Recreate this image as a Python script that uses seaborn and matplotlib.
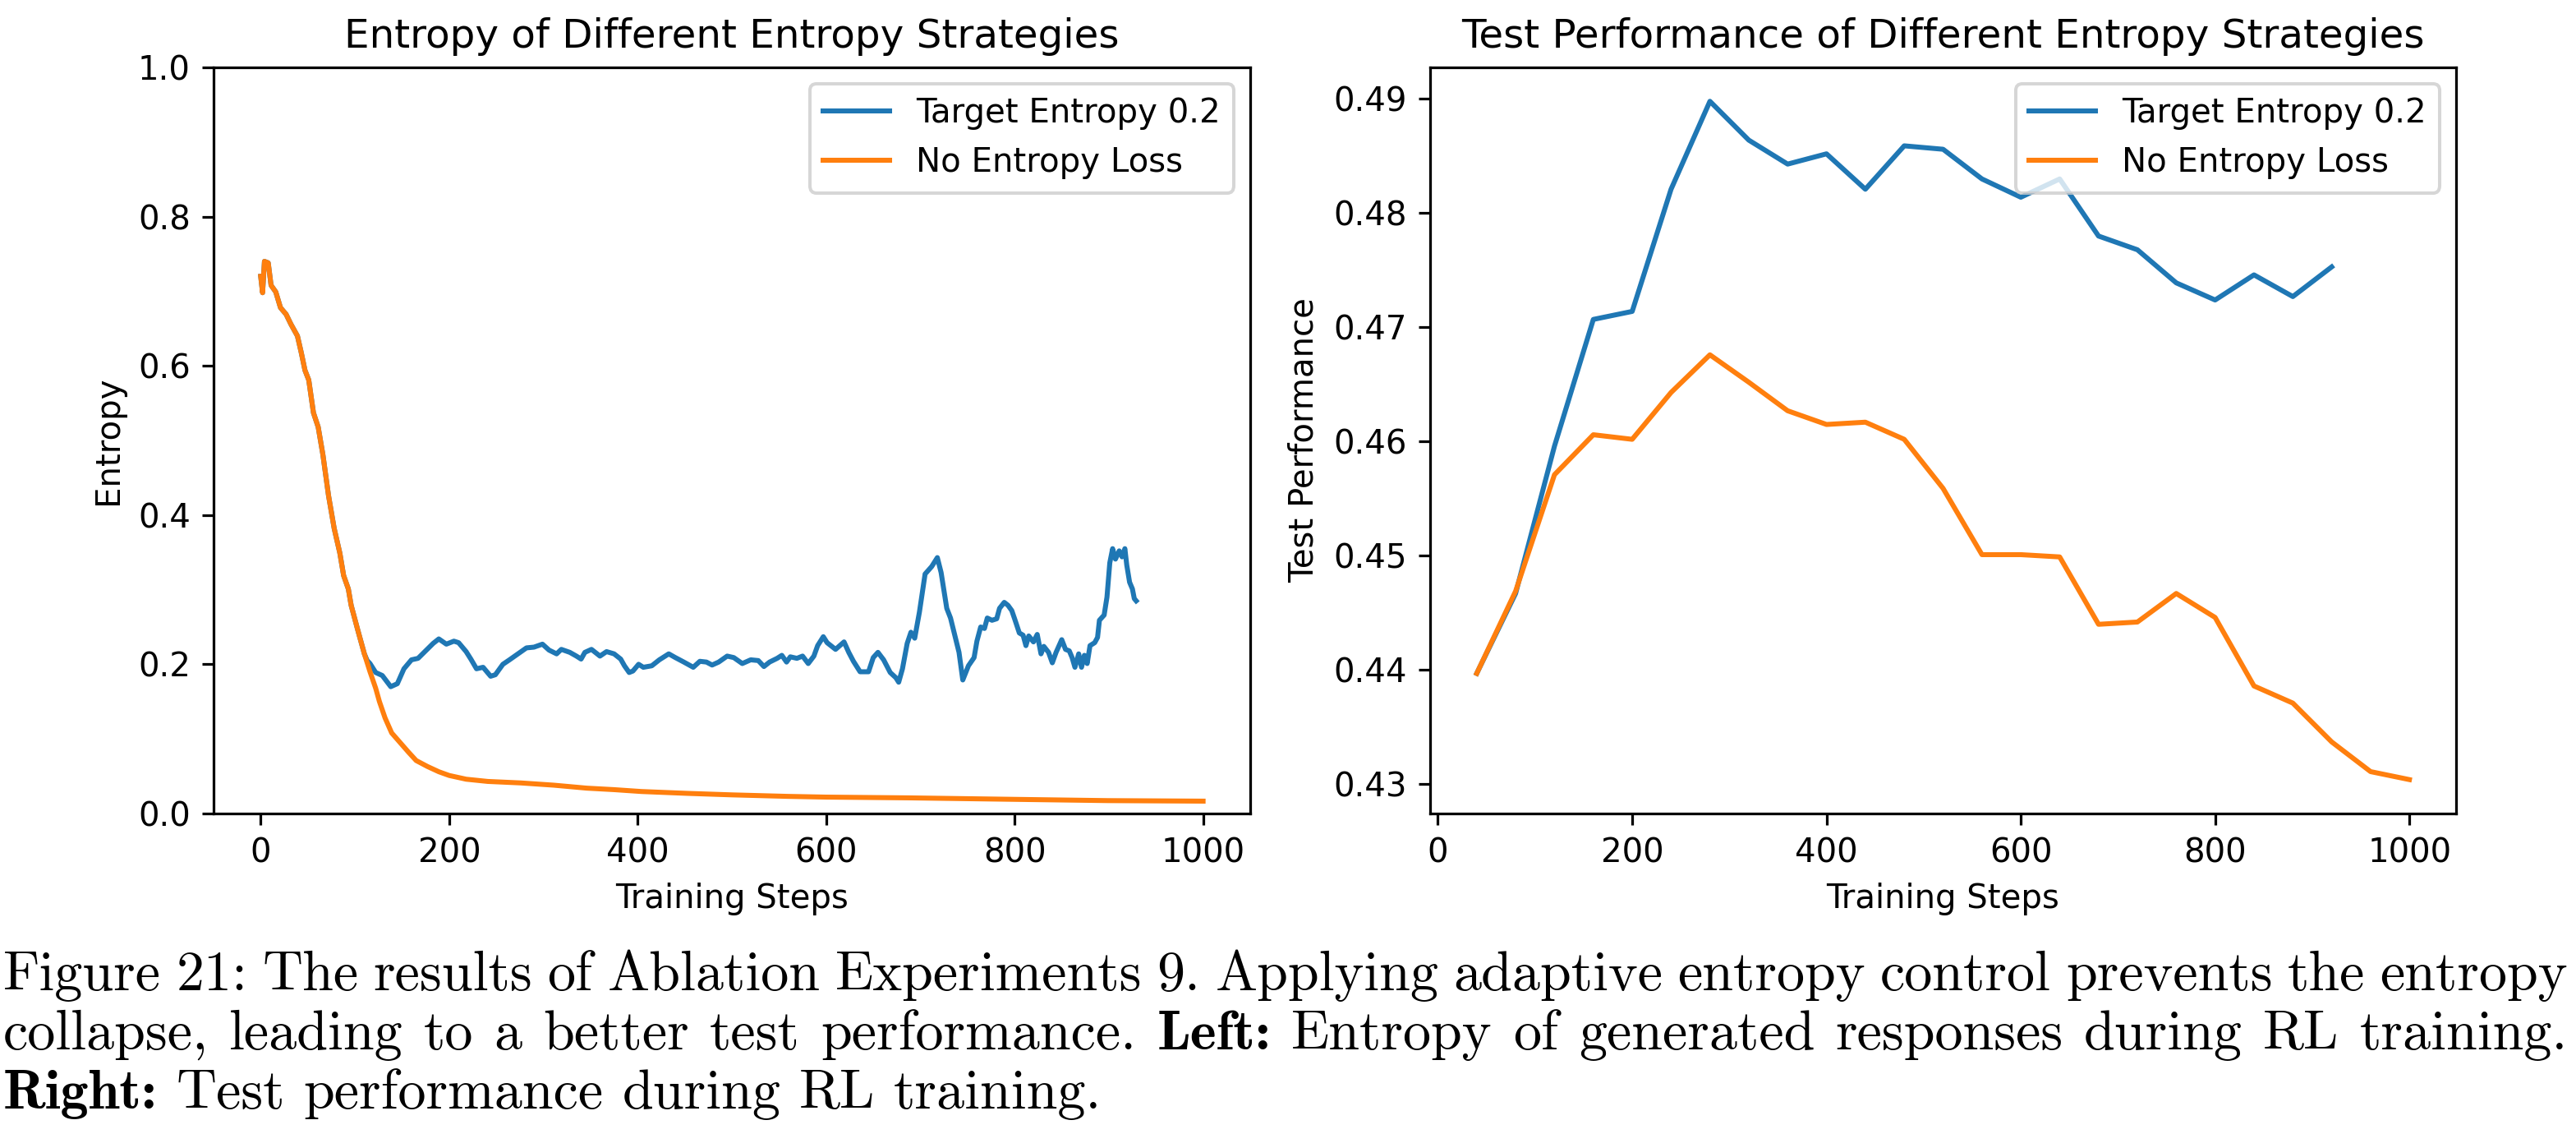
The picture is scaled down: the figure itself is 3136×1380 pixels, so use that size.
import numpy as np
import pandas as pd
import matplotlib
matplotlib.use("Agg")
import matplotlib.pyplot as plt
import seaborn as sns

# left panel: entropy during training
blue_steps = [0, 2, 4, 8, 11, 16, 21, 27, 32, 39, 43, 47, 51, 56, 61, 66, 72, 78, 84, 88, 93, 96, 103, 110, 113,
              116, 122, 129, 138, 145, 152, 160, 167, 175, 183, 189, 197, 205, 210, 218, 223, 229, 236, 244, 249,
              257, 264, 273, 282, 290, 299, 306, 314, 319, 328, 335, 340, 344, 351, 360, 367, 375, 382, 386, 391,
              395, 401, 406, 415, 423, 433, 440, 449, 459, 466, 473, 479, 486, 495, 502, 511, 520, 528, 534, 540,
              548, 553, 558, 562, 569, 575, 581, 587, 591, 597, 601, 610, 619, 624, 629, 636, 645, 650, 655, 661,
              668, 674, 677, 681, 686, 690, 694, 699, 705, 712, 718, 722, 728, 732, 741, 745, 751, 757, 760, 764,
              768, 771, 776, 781, 784, 789, 793, 797, 800, 805, 809, 812, 815, 820, 824, 828, 831, 836, 840, 844,
              850, 854, 858, 861, 864, 868, 871, 874, 877, 880, 885, 888, 890, 895, 898, 901, 904, 907, 911, 914,
              917, 919, 922, 925, 927, 929]
blue_entropy = [0.720, 0.698, 0.740, 0.738, 0.708, 0.699, 0.678, 0.669, 0.656, 0.640, 0.618, 0.594, 0.581, 0.537,
                0.518, 0.481, 0.426, 0.382, 0.349, 0.319, 0.301, 0.279, 0.246, 0.214, 0.205,
                0.201, 0.189, 0.185, 0.170, 0.174, 0.194, 0.206, 0.208, 0.218, 0.228, 0.234, 0.227, 0.231, 0.229,
                0.217, 0.207, 0.194, 0.196, 0.184, 0.186, 0.200, 0.206, 0.214, 0.222, 0.223, 0.227, 0.219, 0.214,
                0.220, 0.216, 0.211, 0.207, 0.216, 0.220, 0.211, 0.217, 0.214, 0.207, 0.198, 0.189, 0.191, 0.200,
                0.196, 0.198, 0.206, 0.214, 0.209, 0.203, 0.196, 0.204, 0.203, 0.199, 0.203, 0.211, 0.209, 0.201,
                0.206, 0.205, 0.197, 0.203, 0.208, 0.212, 0.203, 0.210, 0.208, 0.211, 0.201, 0.211, 0.225, 0.237,
                0.229, 0.220, 0.230, 0.216, 0.204, 0.190, 0.190, 0.209, 0.216, 0.206, 0.189, 0.182, 0.176, 0.194,
                0.228, 0.243, 0.235, 0.270, 0.321, 0.331, 0.343, 0.323, 0.275, 0.262, 0.216, 0.179, 0.198, 0.209,
                0.231, 0.250, 0.248, 0.262, 0.259, 0.261, 0.275, 0.283, 0.279, 0.272, 0.261, 0.242, 0.239, 0.225,
                0.238, 0.230, 0.240, 0.214, 0.224, 0.216, 0.202, 0.216, 0.233, 0.220, 0.218, 0.209, 0.196, 0.214,
                0.196, 0.212, 0.201, 0.225, 0.229, 0.236, 0.259, 0.266, 0.290, 0.336, 0.355, 0.341, 0.352, 0.344,
                0.355, 0.333, 0.310, 0.301, 0.288, 0.285]

orange_steps = [0, 2, 4, 8, 11, 16, 21, 27, 32, 39, 43, 47, 51, 56, 61, 66, 72, 78, 84, 88, 93, 96, 103, 110, 116,
                122, 126, 132, 139, 148, 157, 165, 177, 189, 200, 218, 241, 276, 311, 346, 375, 404, 453, 500,
                559, 600, 687, 800, 899, 1000]
orange_entropy = [0.720, 0.698, 0.740, 0.738, 0.708, 0.699, 0.678, 0.669, 0.656, 0.640, 0.618, 0.594, 0.581, 0.537,
                  0.518, 0.481, 0.426, 0.382, 0.349, 0.319, 0.301, 0.279, 0.246, 0.214, 0.190,
                  0.168, 0.150, 0.128, 0.108, 0.095, 0.082, 0.071, 0.063, 0.056, 0.051, 0.046, 0.043, 0.041, 0.038,
                  0.034, 0.032, 0.0295, 0.027, 0.025, 0.023, 0.022, 0.021, 0.019, 0.0173, 0.0166]

# right panel: test performance
perf_steps_blue = [40, 80, 120, 160, 200, 240, 280, 320, 360, 400, 440, 480, 520, 560, 600, 640, 680, 720, 760,
                   800, 840, 880, 920]
perf_blue = [0.4397, 0.4467, 0.4596, 0.4707, 0.4714, 0.4821, 0.4898, 0.4864, 0.4843, 0.4852, 0.4821, 0.4859,
             0.4856, 0.4830, 0.4814, 0.4830, 0.4780, 0.4768, 0.4739, 0.4724, 0.4746, 0.4727, 0.4753]
perf_steps_orange = [40, 80, 120, 160, 200, 240, 280, 320, 360, 400, 440, 480, 520, 560, 600, 640, 680, 720, 760,
                     800, 840, 880, 920, 960, 1000]
perf_orange = [0.4397, 0.4469, 0.4571, 0.4606, 0.4602, 0.4643, 0.4676, 0.4652, 0.4627, 0.4615, 0.4617, 0.4602,
               0.4559, 0.4501, 0.4501, 0.4499, 0.4440, 0.4442, 0.4467, 0.4446, 0.4386, 0.4371, 0.4337, 0.4311,
               0.4304]

labels = ["Target Entropy 0.2", "No Entropy Loss"]
colors = ["#1f77b4", "#ff7f0e"]

caption = [
    [("Figure 21: The results of Ablation Experiments 9. Applying adaptive entropy control prevents the entropy", False)],
    [("collapse, leading to a better test performance.", False), ("Left:", True),
     ("Entropy of generated responses during RL training.", False)],
    [("Right:", True), ("Test performance during RL training.", False)],
]

DPI = 290
fig = plt.figure(figsize=(3136 / DPI, 1380 / DPI), dpi=DPI)
ax1 = fig.add_axes([260 / 3136, 1 - 990 / 1380, 1262 / 3136, 908 / 1380])
ax2 = fig.add_axes([1741 / 3136, 1 - 990 / 1380, 1249 / 3136, 908 / 1380])

sns.lineplot(x=blue_steps, y=blue_entropy, ax=ax1, color=colors[0], label=labels[0], linewidth=1.5, errorbar=None)
sns.lineplot(x=orange_steps, y=orange_entropy, ax=ax1, color=colors[1], label=labels[1], linewidth=1.5, errorbar=None)
ax1.set_ylim(0, 1.0)
ax1.set_title("Entropy of Different Entropy Strategies")
ax1.set_xlabel("Training Steps")
ax1.set_ylabel("Entropy")
ax1.legend(loc="upper right")

sns.lineplot(x=perf_steps_blue, y=perf_blue, ax=ax2, color=colors[0], label=labels[0], linewidth=1.5, errorbar=None)
sns.lineplot(x=perf_steps_orange, y=perf_orange, ax=ax2, color=colors[1], label=labels[1], linewidth=1.5, errorbar=None)
ax2.set_title("Test Performance of Different Entropy Strategies")
ax2.set_xlabel("Training Steps")
ax2.set_ylabel("Test Performance")
ax2.legend(loc="upper right")

# caption, justified like the paper text
cap_size = 16.9
renderer = fig.canvas.get_renderer()
baselines = [1205, 1277, 1349]
x_left, x_right = 4, 3126
space = 0.333 * cap_size * DPI / 72
for li, line in enumerate(caption):
    words = []
    for chunk, bold in line:
        for w in chunk.split(" "):
            words.append((w, bold))
    texts = []
    for w, bold in words:
        t = fig.text(0, 1 - baselines[li] / 1380, w, fontsize=cap_size,
                     family="cmb10" if bold else "cmr10", ha="left", va="baseline")
        texts.append(t)
    widths = [t.get_window_extent(renderer).width for t in texts]
    if li < len(caption) - 1:
        gap = (x_right - x_left - sum(widths)) / (len(texts) - 1)
    else:
        gap = space
    x = x_left
    for t, w in zip(texts, widths):
        t.set_x(x / 3136)
        x += w + gap

fig.savefig("out.png", dpi=DPI)
